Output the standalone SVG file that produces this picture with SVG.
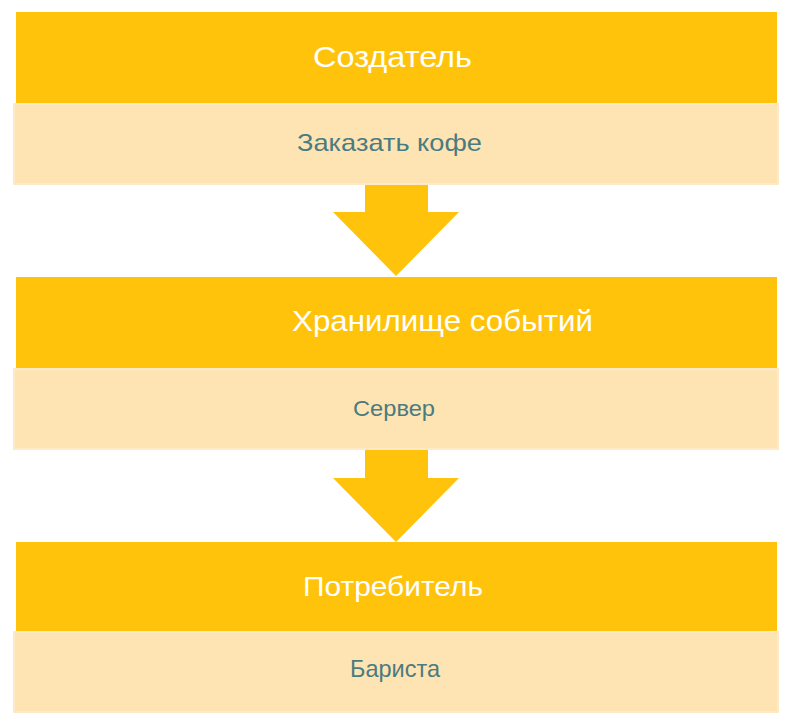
<svg xmlns="http://www.w3.org/2000/svg" width="799" height="725" viewBox="0 0 799 725">
<style>
.hdr{fill:#FFC30B}
.sub{fill:#FFE4B3;stroke:#FFE9C6;stroke-width:2}
.arrow{fill:#FFC30B}
.t1{font-family:"Liberation Sans",Arial,sans-serif;fill:#FFFFFF;text-anchor:middle}
.t2{font-family:"Liberation Sans",Arial,sans-serif;fill:#4A7B80;text-anchor:middle}
</style>
<rect width="799" height="725" fill="#FFFFFF"/>
<g id="connectors">
<polygon class="arrow" points="365,185 428,185 428,212 459,212 396,276 333,212 365,212"/>
<polygon class="arrow" points="365,450 428,450 428,478 459,478 396,542 333,478 365,478"/>
</g>
<g id="node-producer">
<rect class="hdr" x="16" y="12" width="761" height="91"/>
<text class="t1" x="392.5" y="67" font-size="30" textLength="159" lengthAdjust="spacingAndGlyphs">Создатель</text>
<rect class="sub" x="14" y="104" width="764" height="80"/>
<text class="t2" x="389.5" y="151" font-size="24" textLength="185" lengthAdjust="spacingAndGlyphs">Заказать кофе</text>
</g>
<g id="node-store">
<rect class="hdr" x="16" y="277" width="761" height="91"/>
<text class="t1" x="442.5" y="331" font-size="30" textLength="301" lengthAdjust="spacingAndGlyphs">Хранилище событий</text>
<rect class="sub" x="14" y="369" width="764" height="80"/>
<text class="t2" x="394" y="416" font-size="22" textLength="82" lengthAdjust="spacingAndGlyphs">Сервер</text>
</g>
<g id="node-consumer">
<rect class="hdr" x="16" y="542" width="761" height="89"/>
<text class="t1" x="393" y="596" font-size="27" textLength="180" lengthAdjust="spacingAndGlyphs">Потребитель</text>
<rect class="sub" x="14" y="632" width="764" height="80"/>
<text class="t2" x="395" y="677" font-size="24" textLength="90" lengthAdjust="spacingAndGlyphs">Бариста</text>
</g>
</svg>
